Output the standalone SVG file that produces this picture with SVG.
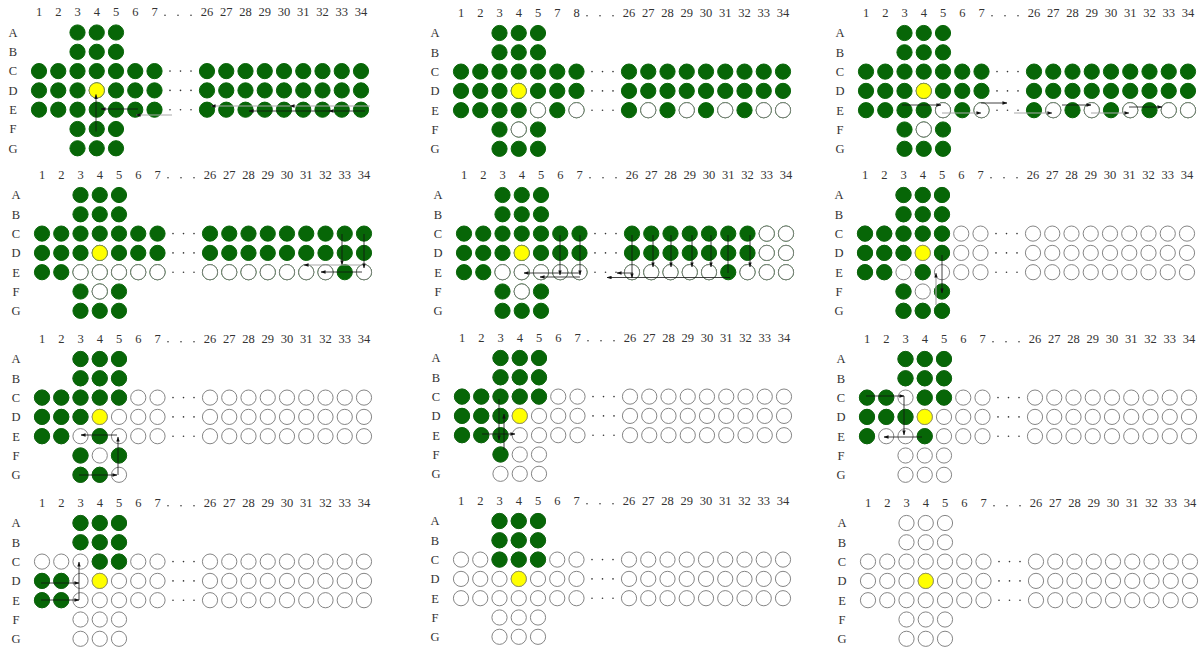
<svg xmlns="http://www.w3.org/2000/svg" xmlns:xlink="http://www.w3.org/1999/xlink" width="1204" height="648" viewBox="0 0 1204 648">
<style>
.txt{font-family:"Liberation Serif","DejaVu Serif",serif;font-size:12.5px;fill:#333;text-anchor:middle}
.g{fill:#076607;stroke:#076607;stroke-width:1}
.e{fill:#fff;stroke:#777;stroke-width:0.9}
.y{fill:#ffff00;stroke:#8a8a5a;stroke-width:0.8}
.k{stroke:#111;stroke-width:0.8;fill:none;marker-end:url(#ah)}
.gr{stroke:#aaa;stroke-width:1.2;fill:none;marker-end:url(#ah)}
</style>
<defs>
<marker id="ah" viewBox="0 0 6 4" refX="5.5" refY="2" markerWidth="5" markerHeight="3.4" orient="auto" markerUnits="userSpaceOnUse"><path d="M0,0 L6,2 L0,4 z" fill="#111"/></marker>
<g id="c3"><circle cx="38.5" r="7.6"/><circle cx="57.75" r="7.6"/><circle cx="77" r="7.6"/></g>
<g id="cL"><circle cx="0" r="7.6"/><circle cx="19.25" r="7.6"/><circle cx="38.5" r="7.6"/><circle cx="57.75" r="7.6"/><circle cx="77" r="7.6"/><circle cx="96.25" r="7.6"/><circle cx="115.5" r="7.6"/></g>
<g id="cR"><circle cx="168" r="7.6"/><circle cx="187.25" r="7.6"/><circle cx="206.5" r="7.6"/><circle cx="225.75" r="7.6"/><circle cx="245" r="7.6"/><circle cx="264.25" r="7.6"/><circle cx="283.5" r="7.6"/><circle cx="302.75" r="7.6"/><circle cx="322" r="7.6"/></g>
<g id="board">
<use href="#c3"/><use href="#c3" y="19.3"/>
<use href="#cL" y="38.6"/><use href="#cR" y="38.6"/>
<use href="#cL" y="57.9"/><use href="#cR" y="57.9"/>
<use href="#cL" y="77.2"/><use href="#cR" y="77.2"/>
<use href="#c3" y="96.5"/><use href="#c3" y="115.8"/>
</g>
<g id="labels">
<text x="-26" y="4.3">A</text><text x="-26" y="23.6">B</text><text x="-26" y="42.9">C</text><text x="-26" y="62.2">D</text><text x="-26" y="81.5">E</text><text x="-26" y="100.8">F</text><text x="-26" y="120.1">G</text>
<text x="0" y="-16.5">1</text><text x="19.25" y="-16.5">2</text><text x="38.5" y="-16.5">3</text><text x="57.75" y="-16.5">4</text><text x="77" y="-16.5">5</text>
<text x="168" y="-16.5">26</text><text x="187.25" y="-16.5">27</text><text x="206.5" y="-16.5">28</text><text x="225.75" y="-16.5">29</text><text x="245" y="-16.5">30</text><text x="264.25" y="-16.5">31</text><text x="283.5" y="-16.5">32</text><text x="302.75" y="-16.5">33</text><text x="322" y="-16.5">34</text>
<circle cx="126" cy="-17.3" r="0.8"/><circle cx="139" cy="-17.3" r="0.8"/><circle cx="152" cy="-17.3" r="0.8"/>
<circle cx="131" cy="38.6" r="0.8"/><circle cx="141.5" cy="38.6" r="0.8"/><circle cx="152" cy="38.6" r="0.8"/>
<circle cx="131" cy="57.9" r="0.8"/><circle cx="141.5" cy="57.9" r="0.8"/><circle cx="152" cy="57.9" r="0.8"/>
<circle cx="131" cy="77.2" r="0.8"/><circle cx="141.5" cy="77.2" r="0.8"/><circle cx="152" cy="77.2" r="0.8"/>
</g>
<g id="h67"><text x="96.25" y="-16.5">6</text><text x="115.5" y="-16.5">7</text></g>
<g id="h78"><text x="96.25" y="-16.5">7</text><text x="115.5" y="-16.5">8</text></g>
</defs>

<g id="panel1" transform="translate(39,32.5)">
<use href="#labels" class="txt"/><use href="#h67" class="txt"/>
<use href="#board" class="g"/>
<circle class="y" cx="57.75" cy="57.9" r="7.6"/>
</g>

<g id="panel2" transform="translate(461,33)">
<use href="#labels" class="txt"/><use href="#h78" class="txt"/>
<use href="#board" class="g"/>
<circle class="y" cx="57.75" cy="57.9" r="7.6"/>
<circle class="e" cx="77" cy="77.2" r="7.6"/><circle class="e" cx="115.5" cy="77.2" r="7.6"/><circle class="e" cx="57.75" cy="96.5" r="7.6"/>
<circle class="e" cx="187.25" cy="77.2" r="7.6"/><circle class="e" cx="225.75" cy="77.2" r="7.6"/><circle class="e" cx="264.25" cy="77.2" r="7.6"/><circle class="e" cx="302.75" cy="77.2" r="7.6"/><circle class="e" cx="322" cy="77.2" r="7.6"/>
</g>

<g id="panel3" transform="translate(866,33)">
<use href="#labels" class="txt"/><use href="#h67" class="txt"/>
<use href="#board" class="g"/>
<circle class="y" cx="57.75" cy="57.9" r="7.6"/>
<circle class="e" cx="77" cy="77.2" r="7.6"/><circle class="e" cx="115.5" cy="77.2" r="7.6"/><circle class="e" cx="57.75" cy="96.5" r="7.6"/>
<circle class="e" cx="187.25" cy="77.2" r="7.6"/><circle class="e" cx="225.75" cy="77.2" r="7.6"/><circle class="e" cx="264.25" cy="77.2" r="7.6"/><circle class="e" cx="302.75" cy="77.2" r="7.6"/><circle class="e" cx="322" cy="77.2" r="7.6"/>
</g>

<g id="panel4" transform="translate(42,195)">
<use href="#labels" class="txt"/><use href="#h67" class="txt"/>
<use href="#board" class="g"/>
<circle class="y" cx="57.75" cy="57.9" r="7.6"/>
<circle class="e" cx="38.5" cy="77.2" r="7.6"/><circle class="e" cx="57.75" cy="77.2" r="7.6"/><circle class="e" cx="77" cy="77.2" r="7.6"/><circle class="e" cx="96.25" cy="77.2" r="7.6"/><circle class="e" cx="115.5" cy="77.2" r="7.6"/>
<circle class="e" cx="168" cy="77.2" r="7.6"/><circle class="e" cx="187.25" cy="77.2" r="7.6"/><circle class="e" cx="206.5" cy="77.2" r="7.6"/><circle class="e" cx="225.75" cy="77.2" r="7.6"/><circle class="e" cx="245" cy="77.2" r="7.6"/><circle class="e" cx="264.25" cy="77.2" r="7.6"/><circle class="e" cx="283.5" cy="77.2" r="7.6"/><circle class="e" cx="322" cy="77.2" r="7.6"/>
<circle class="e" cx="57.75" cy="96.5" r="7.6"/>
</g>

<g id="panel5" transform="translate(464,195)">
<use href="#labels" class="txt"/><use href="#h67" class="txt"/>
<use href="#board" class="g"/>
<circle class="y" cx="57.75" cy="57.9" r="7.6"/>
<circle class="e" cx="302.75" cy="38.6" r="7.6"/><circle class="e" cx="322" cy="38.6" r="7.6"/>
<circle class="e" cx="302.75" cy="57.9" r="7.6"/><circle class="e" cx="322" cy="57.9" r="7.6"/>
<circle class="e" cx="38.5" cy="77.2" r="7.6"/><circle class="e" cx="57.75" cy="77.2" r="7.6"/><circle class="e" cx="77" cy="77.2" r="7.6"/><circle class="e" cx="96.25" cy="77.2" r="7.6"/><circle class="e" cx="115.5" cy="77.2" r="7.6"/>
<circle class="e" cx="168" cy="77.2" r="7.6"/><circle class="e" cx="187.25" cy="77.2" r="7.6"/><circle class="e" cx="206.5" cy="77.2" r="7.6"/><circle class="e" cx="225.75" cy="77.2" r="7.6"/><circle class="e" cx="245" cy="77.2" r="7.6"/><circle class="e" cx="283.5" cy="77.2" r="7.6"/><circle class="e" cx="302.75" cy="77.2" r="7.6"/><circle class="e" cx="322" cy="77.2" r="7.6"/>
<circle class="e" cx="57.75" cy="96.5" r="7.6"/>
</g>

<g id="panel6" transform="translate(865,195)">
<use href="#labels" class="txt"/><use href="#h67" class="txt"/>
<use href="#board" class="e"/>
<use href="#c3" class="g"/><use href="#c3" class="g" y="19.3"/>
<circle class="g" cx="0" cy="38.6" r="7.6"/><circle class="g" cx="19.25" cy="38.6" r="7.6"/><circle class="g" cx="38.5" cy="38.6" r="7.6"/><circle class="g" cx="57.75" cy="38.6" r="7.6"/><circle class="g" cx="77" cy="38.6" r="7.6"/>
<circle class="g" cx="0" cy="57.9" r="7.6"/><circle class="g" cx="19.25" cy="57.9" r="7.6"/><circle class="g" cx="38.5" cy="57.9" r="7.6"/><circle class="g" cx="77" cy="57.9" r="7.6"/>
<circle class="g" cx="0" cy="77.2" r="7.6"/><circle class="g" cx="19.25" cy="77.2" r="7.6"/><circle class="g" cx="57.75" cy="77.2" r="7.6"/>
<circle class="g" cx="38.5" cy="96.5" r="7.6"/><circle class="g" cx="77" cy="96.5" r="7.6"/>
<use href="#c3" class="g" y="115.8"/>
<circle class="y" cx="57.75" cy="57.9" r="7.6"/>
</g>

<g id="panel7" transform="translate(42,359)">
<use href="#labels" class="txt"/><use href="#h67" class="txt"/>
<use href="#board" class="e"/>
<use href="#c3" class="g"/><use href="#c3" class="g" y="19.3"/>
<circle class="g" cx="0" cy="38.6" r="7.6"/><circle class="g" cx="19.25" cy="38.6" r="7.6"/><circle class="g" cx="38.5" cy="38.6" r="7.6"/><circle class="g" cx="57.75" cy="38.6" r="7.6"/><circle class="g" cx="77" cy="38.6" r="7.6"/>
<circle class="g" cx="0" cy="57.9" r="7.6"/><circle class="g" cx="19.25" cy="57.9" r="7.6"/><circle class="g" cx="38.5" cy="57.9" r="7.6"/>
<circle class="g" cx="0" cy="77.2" r="7.6"/><circle class="g" cx="19.25" cy="77.2" r="7.6"/><circle class="g" cx="57.75" cy="77.2" r="7.6"/>
<circle class="g" cx="38.5" cy="96.5" r="7.6"/><circle class="g" cx="77" cy="96.5" r="7.6"/>
<circle class="g" cx="38.5" cy="115.8" r="7.6"/><circle class="g" cx="57.75" cy="115.8" r="7.6"/>
<circle class="y" cx="57.75" cy="57.9" r="7.6"/>
</g>

<g id="panel8" transform="translate(462,358)">
<use href="#labels" class="txt"/><use href="#h67" class="txt"/>
<use href="#board" class="e"/>
<use href="#c3" class="g"/><use href="#c3" class="g" y="19.3"/>
<circle class="g" cx="0" cy="38.6" r="7.6"/><circle class="g" cx="19.25" cy="38.6" r="7.6"/><circle class="g" cx="38.5" cy="38.6" r="7.6"/><circle class="g" cx="57.75" cy="38.6" r="7.6"/><circle class="g" cx="77" cy="38.6" r="7.6"/>
<circle class="g" cx="0" cy="57.9" r="7.6"/><circle class="g" cx="19.25" cy="57.9" r="7.6"/><circle class="g" cx="38.5" cy="57.9" r="7.6"/>
<circle class="g" cx="0" cy="77.2" r="7.6"/><circle class="g" cx="19.25" cy="77.2" r="7.6"/><circle class="g" cx="38.5" cy="77.2" r="7.6"/>
<circle class="g" cx="38.5" cy="96.5" r="7.6"/>
<circle class="y" cx="57.75" cy="57.9" r="7.6"/>
</g>

<g id="panel9" transform="translate(867,359)">
<use href="#labels" class="txt"/><use href="#h67" class="txt"/>
<use href="#board" class="e"/>
<use href="#c3" class="g"/><use href="#c3" class="g" y="19.3"/>
<circle class="g" cx="0" cy="38.6" r="7.6"/><circle class="g" cx="19.25" cy="38.6" r="7.6"/><circle class="g" cx="57.75" cy="38.6" r="7.6"/><circle class="g" cx="77" cy="38.6" r="7.6"/>
<circle class="g" cx="0" cy="57.9" r="7.6"/><circle class="g" cx="19.25" cy="57.9" r="7.6"/><circle class="g" cx="38.5" cy="57.9" r="7.6"/>
<circle class="g" cx="0" cy="77.2" r="7.6"/><circle class="g" cx="57.75" cy="77.2" r="7.6"/>
<circle class="y" cx="57.75" cy="57.9" r="7.6"/>
</g>

<g id="panel10" transform="translate(42,523)">
<use href="#labels" class="txt"/><use href="#h67" class="txt"/>
<use href="#board" class="e"/>
<use href="#c3" class="g"/><use href="#c3" class="g" y="19.3"/>
<circle class="g" cx="57.75" cy="38.6" r="7.6"/><circle class="g" cx="77" cy="38.6" r="7.6"/>
<circle class="g" cx="0" cy="57.9" r="7.6"/><circle class="g" cx="19.25" cy="57.9" r="7.6"/>
<circle class="g" cx="0" cy="77.2" r="7.6"/><circle class="g" cx="19.25" cy="77.2" r="7.6"/>
<circle class="y" cx="57.75" cy="57.9" r="7.6"/>
</g>

<g id="panel11" transform="translate(461,521)">
<use href="#labels" class="txt"/><use href="#h67" class="txt"/>
<use href="#board" class="e"/>
<use href="#c3" class="g"/><use href="#c3" class="g" y="19.3"/><use href="#c3" class="g" y="38.6"/>
<circle class="y" cx="57.75" cy="57.9" r="7.6"/>
</g>

<g id="panel12" transform="translate(868,523)">
<use href="#labels" class="txt"/><use href="#h67" class="txt"/>
<use href="#board" class="e"/>
<circle class="y" cx="57.75" cy="57.9" r="7.6"/>
</g>

<g id="connectors">
<g transform="translate(39,32.5)">
<line class="k" x1="57" y1="99" x2="57" y2="62"/>
<line class="k" x1="99" y1="76.5" x2="62" y2="76.5"/>
<line class="gr" x1="133" y1="82.5" x2="97" y2="82.5"/>
<line class="gr" x1="331" y1="73.5" x2="251" y2="73.5"/>
<line class="gr" x1="251" y1="73.5" x2="172" y2="73.5"/>
<line class="k" x1="326" y1="78.5" x2="290" y2="78.5"/>
<line class="k" x1="290" y1="78.5" x2="210" y2="78.5"/>
</g>
<g transform="translate(866,33)">
<line class="k" x1="36" y1="72" x2="75" y2="72"/>
<line class="gr" x1="76" y1="80" x2="115" y2="80"/>
<line class="k" x1="115" y1="70" x2="141" y2="70"/>
<line class="gr" x1="148" y1="80" x2="186" y2="80"/>
<line class="k" x1="196" y1="72" x2="225" y2="72"/>
<line class="gr" x1="225" y1="80" x2="263" y2="80"/>
<line class="k" x1="263" y1="74" x2="296" y2="74"/>
</g>
<g transform="translate(42,195)">
<line class="k" x1="300" y1="39" x2="300" y2="70"/>
<line class="k" x1="322" y1="39" x2="322" y2="73"/>
<line class="gr" x1="320" y1="70" x2="262" y2="70"/>
<line class="k" x1="320" y1="77" x2="279" y2="77"/>
</g>
<g transform="translate(464,195)">
<line class="k" x1="96" y1="40" x2="96" y2="80"/>
<line class="k" x1="116" y1="40" x2="116" y2="80"/>
<line class="k" x1="168" y1="40" x2="168" y2="83"/>
<line class="k" x1="189" y1="40" x2="189" y2="72"/>
<line class="k" x1="207" y1="40" x2="207" y2="72"/>
<line class="k" x1="228" y1="40" x2="228" y2="72"/>
<line class="k" x1="247" y1="40" x2="247" y2="72"/>
<line stroke="#111" stroke-width="0.8" x1="264" y1="40" x2="264" y2="78"/>
<line class="k" x1="286" y1="40" x2="286" y2="72"/>
<line class="k" x1="116" y1="78" x2="60" y2="78"/>
<line class="k" x1="116" y1="82" x2="76" y2="82"/>
<line class="k" x1="169" y1="78" x2="153" y2="78"/>
<line class="k" x1="266" y1="82.5" x2="143" y2="82.5"/>
</g>
<g transform="translate(865,195)">
<line class="k" x1="77" y1="60" x2="77" y2="98"/>
<line class="gr" x1="71" y1="110" x2="71" y2="78"/>
</g>
<g transform="translate(42,359)">
<line class="k" x1="75" y1="76" x2="39" y2="76"/>
<line class="k" x1="76" y1="116" x2="76" y2="78"/>
<line class="k" x1="37" y1="116" x2="75" y2="116"/>
</g>
<g transform="translate(462,358)">
<line class="k" x1="37" y1="41" x2="37" y2="82"/>
<line class="k" x1="42" y1="92" x2="42" y2="56"/>
<line class="k" x1="20" y1="76" x2="53" y2="76"/>
</g>
<g transform="translate(867,359)">
<line class="k" x1="-1" y1="37" x2="37" y2="37"/>
<line class="k" x1="37" y1="37" x2="37" y2="76"/>
<line class="k" x1="55" y1="78" x2="17" y2="78"/>
</g>
<g transform="translate(42,523)">
<line class="k" x1="-1" y1="60" x2="37" y2="60"/>
<line class="k" x1="-1" y1="77" x2="37" y2="77"/>
<line class="k" x1="37" y1="77" x2="37" y2="39"/>
</g>
</g>
</svg>
